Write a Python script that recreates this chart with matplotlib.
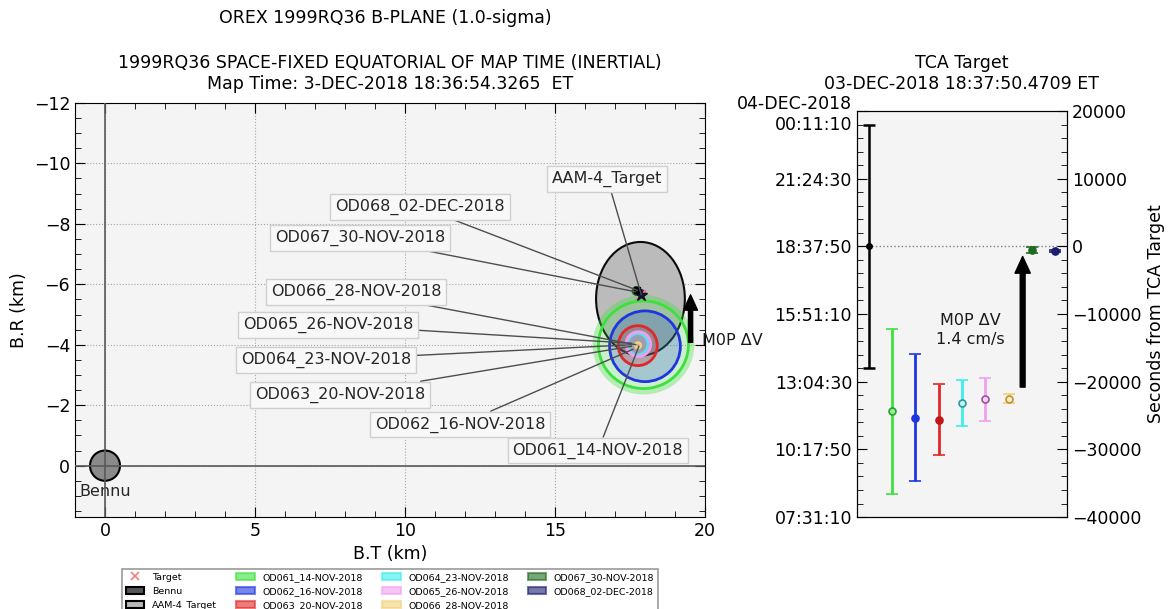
"""B-plane dispersion of the OD solutions plus their TCA offsets from the target."""
from datetime import datetime, timedelta

import matplotlib.pyplot as plt
from matplotlib.lines import Line2D
from matplotlib.patches import Circle, Ellipse, Patch
from matplotlib.ticker import MultipleLocator

solutions = [
    "OD061_14-NOV-2018",
    "OD062_16-NOV-2018",
    "OD063_20-NOV-2018",
    "OD064_23-NOV-2018",
    "OD065_26-NOV-2018",
    "OD066_28-NOV-2018",
    "OD067_30-NOV-2018",
    "OD068_02-DEC-2018",
]
edge_colours = ["#3ee03e", "#1f35e0", "#e02828", "#3aeeee", "#f29ef0",
                "#f2cf78", "#1f6b1f", "#1c1c70"]
marker_faces = ["#8ef08e", "#1f35e0", "#c01818", "#bff6f6", "#f7d8f4",
                "#f9edc8", "#1f6b1f", "#1c1c70"]
marker_edges = ["#2aa02a", "#1f35e0", "#c01818", "#2a9a9a", "#a050a0",
                "#c09030", "#1f6b1f", "#1c1c70"]

# 1-sigma B-plane ellipses (km)
bt_centre = [17.95, 18.00, 17.76, 17.76, 17.78, 17.77, 17.72, 17.88]
br_centre = [-4.00, -3.95, -3.97, -4.02, -4.02, -3.98, -5.78, -5.70]
bt_semi = [1.50, 1.18, 0.65, 0.34, 0.41, 0.09, 0.12, 0.09]
br_semi = [1.45, 1.17, 0.66, 0.35, 0.41, 0.09, 0.12, 0.09]

# label boxes (km) and the point each leader line runs to
label_bt = [16.43, 11.83, 7.83, 7.37, 7.43, 8.37, 8.50, 10.50]
label_br = [-0.50, -1.36, -2.35, -3.50, -4.66, -5.75, -7.54, -8.56]
leader_bt = [17.80, 17.60, 17.55, 17.55, 17.55, 17.70, 17.70, 17.75]
leader_br = [-3.95, -3.85, -3.95, -4.00, -4.05, -4.00, -5.75, -5.80]

target_name = "AAM-4_Target"
target_bt, target_br = 17.85, -5.52
target_semi = (1.48, 1.88)
target_mark = (17.88, -5.65)
target_label = (16.75, -9.48)

bennu_radius = 0.5
m0p_bt, m0p_from, m0p_to = 19.52, -4.08, -5.65

# TCA offsets from the target TCA (s) with 1-sigma
tca_target_sigma = 18000
tca_offset = [-24400, -25300, -25600, -23100, -22600, -22500, -600, -700]
tca_sigma = [12200, 9400, 5200, 3400, 3200, 700, 450, 200]
tca_epoch = datetime(2018, 12, 3, 18, 37, 50)
tca_ticks = [-40000, -30000, -20000, -10000, 0, 10000, 20000]
m0p_index, m0p_tca_from, m0p_tca_to = 6.6, -20800, -1500

plt.rcParams["font.family"] = "DejaVu Sans"

fig = plt.figure(figsize=(11.72, 6.09), dpi=100)
ax = fig.add_axes([0.064, 0.151, 0.5375, 0.68])
ax2 = fig.add_axes([0.7312, 0.151, 0.1792, 0.6667])
bg = "#f4f4f4"

# ---- B-plane ----
ax.set_facecolor(bg)
ax.axhline(0, color="0.35", lw=1.2, zorder=4)
ax.axvline(0, color="0.35", lw=1.2, zorder=4)
ax.add_patch(Circle((0, 0), bennu_radius, facecolor="#8a8a8a", edgecolor="black",
                    lw=1.5, zorder=3))
ax.text(0, 0.85, "Bennu", ha="center", va="center", fontsize=11.5, color="0.15")

ax.add_patch(Ellipse((target_bt, target_br), 2 * target_semi[0], 2 * target_semi[1],
                     facecolor="#b8b8b8", edgecolor="black", lw=1.5, alpha=0.95, zorder=3))
for i, name in enumerate(solutions):
    w, h = 2 * bt_semi[i], 2 * br_semi[i]
    if i == 0:
        # soft outer band round the widest solution
        ax.add_patch(Ellipse((bt_centre[i], br_centre[i]), w + 0.16, h + 0.16,
                             facecolor="none", edgecolor=edge_colours[i], lw=5,
                             alpha=0.35, zorder=4))
    ax.add_patch(Ellipse((bt_centre[i], br_centre[i]), w, h,
                         facecolor=edge_colours[i], alpha=0.22, lw=0, zorder=4 + i))
    ax.add_patch(Ellipse((bt_centre[i], br_centre[i]), w, h, facecolor="none",
                         edgecolor=edge_colours[i], lw=2, zorder=4 + i))

ax.plot(*target_mark, "x", color="#f08080", ms=7, mew=1.5, zorder=13)
ax.plot(target_mark[0], target_mark[1], "*", color="#101030", ms=9, zorder=14)
ax.plot(17.72, -5.8, "s", color="black", ms=4, zorder=14)

box = dict(boxstyle="square,pad=0.3", facecolor="#f8f8f8", edgecolor="#d0d0d0", lw=1)
leader = dict(arrowstyle="-", color="0.3", lw=1, shrinkA=0, shrinkB=0)
for i, name in enumerate(solutions):
    ax.annotate(name, xy=(leader_bt[i], leader_br[i]), xytext=(label_bt[i], label_br[i]),
                ha="center", va="center", fontsize=11.5, color="0.15",
                bbox=box, arrowprops=leader, zorder=15)
ax.annotate(target_name, xy=target_mark, xytext=target_label, ha="center", va="center",
            fontsize=11.5, color="0.15", bbox=box, arrowprops=leader, zorder=15)

ax.annotate("", xy=(m0p_bt, m0p_to), xytext=(m0p_bt, m0p_from),
            arrowprops=dict(width=3, headwidth=10, headlength=11, facecolor="black",
                            edgecolor="black", shrink=0), zorder=16)
ax.text(m0p_bt + 0.38, m0p_from - 0.05, "M0P \u0394V", ha="left", va="center",
        fontsize=11.5, color="0.1", clip_on=False)

ax.set_xlim(-1, 20)
ax.set_ylim(1.7, -12)
ax.xaxis.set_major_locator(MultipleLocator(5))
ax.xaxis.set_minor_locator(MultipleLocator(1))
ax.yaxis.set_major_locator(MultipleLocator(2))
ax.yaxis.set_minor_locator(MultipleLocator(0.5))
ax.grid(True, which="major", linestyle=":", color="0.65", lw=0.8)
ax.tick_params(which="both", direction="in", top=True, right=True, labelsize=12.5)
ax.tick_params(which="major", length=7)
ax.tick_params(which="minor", length=4)
ax.set_xlabel("B.T (km)", fontsize=12.5, labelpad=4)
ax.set_ylabel("B.R (km)", fontsize=12.5)
ax.set_title("1999RQ36 SPACE-FIXED EQUATORIAL OF MAP TIME (INERTIAL)\n"
             "Map Time: 3-DEC-2018 18:36:54.3265  ET", fontsize=12.5, pad=10)
fig.text(0.3285, 0.97, "OREX 1999RQ36 B-PLANE (1.0-sigma)", ha="center", va="center",
         fontsize=12.5)

handles = [
    Line2D([], [], marker="x", ls="none", color="#f08080", mew=1.2, ms=6),
    Patch(facecolor="#555555", edgecolor="black", lw=1.5),
    Patch(facecolor="#b8b8b8", edgecolor="black", lw=1.5),
]
for c in edge_colours:
    handles.append(Patch(facecolor=c, edgecolor=c, lw=1.5, alpha=0.6))
labels = ["Target", "Bennu", target_name] + solutions
leg = ax.legend(handles, labels, loc="upper center", bbox_to_anchor=(0.5, -0.115),
                ncol=4, fontsize=6.8, frameon=True, fancybox=False, edgecolor="0.5",
                handlelength=2.0, handletextpad=0.8, columnspacing=2.0, labelspacing=0.55,
                borderpad=0.35)
leg.get_frame().set_linewidth(1.2)

# ---- TCA offsets ----
ax2.set_facecolor(bg)
ax2.axhline(0, color="0.5", ls=":", lw=1, zorder=1)
ax2.errorbar(0, 0, yerr=tca_target_sigma, fmt="o", color="black", ms=4,
             capsize=4, elinewidth=1.8, capthick=1.8, zorder=3)
for i in range(len(solutions)):
    ax2.errorbar(i + 1, tca_offset[i], yerr=tca_sigma[i], fmt="o", ecolor=edge_colours[i],
                 mfc=marker_faces[i], mec=marker_edges[i], ms=5, mew=1.2,
                 capsize=4, elinewidth=2, capthick=2, zorder=3)

ax2.annotate("", xy=(m0p_index, m0p_tca_to), xytext=(m0p_index, m0p_tca_from),
             arrowprops=dict(width=3.5, headwidth=11, headlength=12, facecolor="black",
                             edgecolor="black", shrink=0))
ax2.text(4.35, -12400, "M0P \u0394V\n1.4 cm/s", ha="center", va="center", fontsize=11.5,
         color="0.1", linespacing=1.3)

ax2.set_xlim(-0.5, 8.5)
ax2.set_ylim(-40000, 20000)
ax2.set_xticks([])


def tca_label(seconds):
    t = tca_epoch + timedelta(seconds=seconds)
    if t.date() != tca_epoch.date():
        return t.strftime("%d-%b-%Y").upper() + "\n" + t.strftime("%H:%M:%S")
    return t.strftime("%H:%M:%S")


ax2.set_yticks(tca_ticks)
ax2.set_yticklabels([tca_label(s) for s in tca_ticks])
ax2.yaxis.set_minor_locator(MultipleLocator(2000))
ax2.tick_params(which="both", direction="in", labelsize=12.5, right=False)
ax2.tick_params(which="major", length=7)
ax2.tick_params(which="minor", length=4)
ax2.set_title("TCA Target\n03-DEC-2018 18:37:50.4709 ET", fontsize=12.5, pad=16)

sec = ax2.twinx()
sec.set_ylim(-40000, 20000)
sec.set_yticks(tca_ticks)
sec.yaxis.set_minor_locator(MultipleLocator(2000))
sec.tick_params(which="both", direction="in", labelsize=12.5)
sec.tick_params(which="major", length=7)
sec.tick_params(which="minor", length=4)
sec.set_ylabel("Seconds from TCA Target", fontsize=12.5)

fig.savefig("out.png", dpi=100)
